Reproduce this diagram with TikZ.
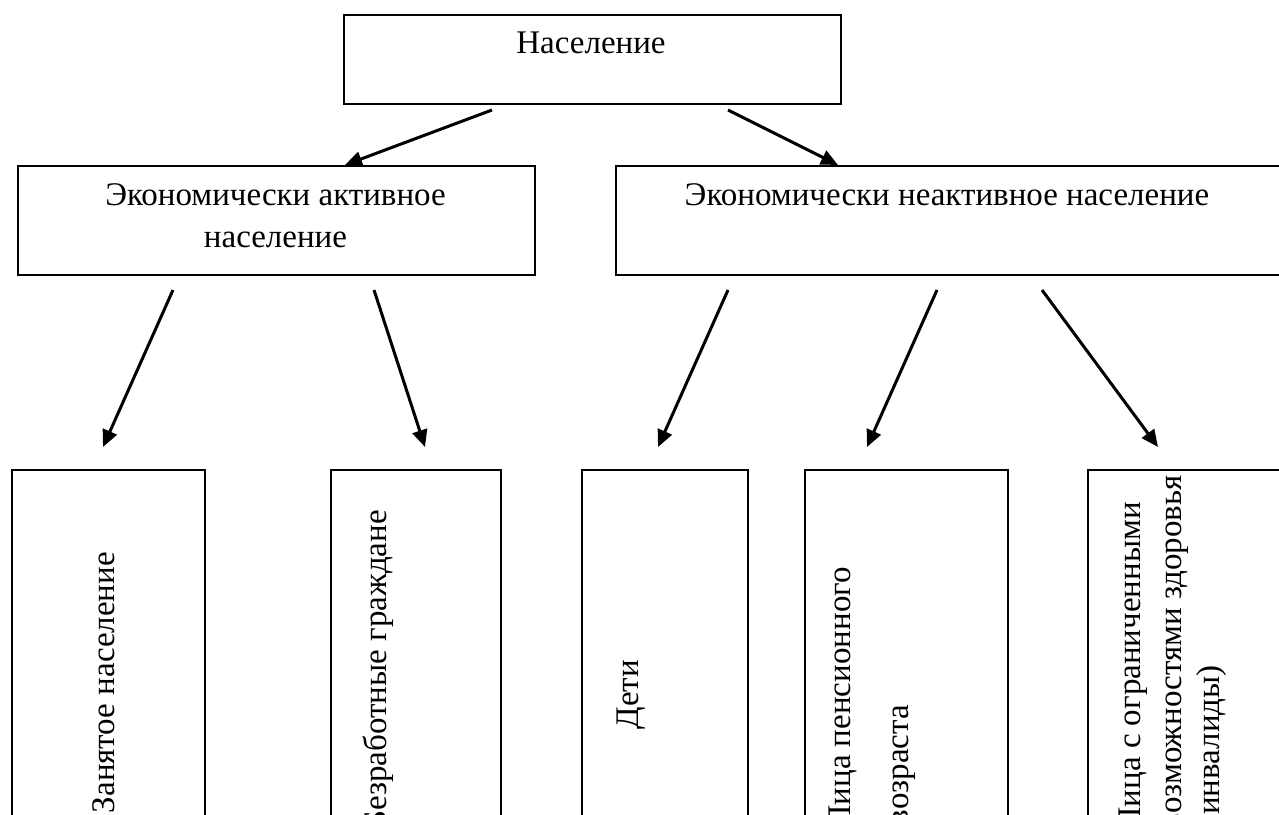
\documentclass[tikz,border=0pt]{standalone}
\usepackage{fontspec}
\setmainfont{Liberation Serif}
\usetikzlibrary{arrows.meta}
\begin{document}
\begin{tikzpicture}[x=1pt,y=1pt,
  box/.style={draw=black, line width=2.4pt, inner sep=0pt, anchor=north west},
  lbl/.style={inner sep=0pt, font=\fontsize{33}{42}\selectfont, anchor=base},
  vlbl/.style={inner sep=0pt, font=\fontsize{33}{42}\selectfont, rotate=90, anchor=base east},
  arr/.style={line width=3pt, -{Triangle[length=17pt,width=15pt]}}]
\useasboundingbox (0,0) rectangle (1279,-814);
\fill[white] (0,0) rectangle (1279,-814);
\clip (0,0) rectangle (1279,-814);

% level 0
\node[box, minimum width=497pt, minimum height=89pt] (pop) at (343,-14) {};
\node[lbl] (popT) at (591,-53) {Население};

% level 1
\node[box, minimum width=517pt, minimum height=109pt] (act) at (17,-165) {};
\node[lbl] (actT1) at (275.5,-205) {Экономически активное};
\node[lbl] (actT2) at (275.5,-247) {население};

\node[box, minimum width=667pt, minimum height=109pt] (inact) at (615,-165) {};
\node[lbl] (inactT) at (947,-205) {Экономически неактивное население};

% level 2
\node[box, minimum width=193pt, minimum height=431pt] (b1) at (11,-469) {};
\node[vlbl] (b1T) at (114,-552) {Занятое население};

\node[box, minimum width=170pt, minimum height=431pt] (b2) at (330,-469) {};
\node[vlbl] (b2T) at (386,-510) {Безработные граждане};

\node[box, minimum width=166pt, minimum height=431pt] (b3) at (581,-469) {};
\node[vlbl] (b3T) at (638,-660) {Дети};

\node[box, minimum width=203pt, minimum height=431pt] (b4) at (804,-469) {};
\node[vlbl] (b4T1) at (850,-567) {Лица пенсионного};
\node[vlbl] (b4T2) at (908,-705) {возраста};

\node[box, minimum width=200pt, minimum height=431pt] (b5) at (1087,-469) {};
\node[vlbl] (b5T1) at (1140,-502) {Лица с ограниченными};
\node[vlbl] (b5T2) at (1181,-475) {возможностями здоровья};
\node[vlbl] (b5T3) at (1219,-665) {(инвалиды)};

% connector end points
\coordinate (a1s) at (492,-110);
\coordinate (a1e) at (345,-165);
\coordinate (a2s) at (728,-110);
\coordinate (a2e) at (838,-165);
\coordinate (a3s) at (173,-290);
\coordinate (a3e) at (103,-447);
\coordinate (a4s) at (374,-290);
\coordinate (a4e) at (425,-447);
\coordinate (a5s) at (728,-290);
\coordinate (a5e) at (658,-447);
\coordinate (a6s) at (937,-290);
\coordinate (a6e) at (867,-447);
\coordinate (a7s) at (1042,-290);
\coordinate (a7e) at (1158,-447);

\draw[arr] (a1s) -- (a1e);
\draw[arr] (a2s) -- (a2e);
\draw[arr] (a3s) -- (a3e);
\draw[arr] (a4s) -- (a4e);
\draw[arr] (a5s) -- (a5e);
\draw[arr] (a6s) -- (a6e);
\draw[arr] (a7s) -- (a7e);
\end{tikzpicture}
\end{document}
